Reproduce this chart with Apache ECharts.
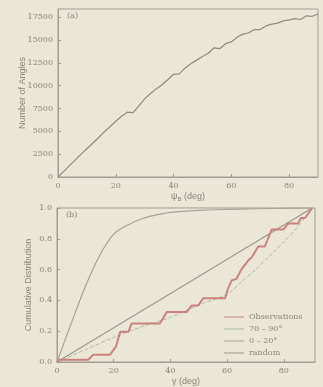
<!DOCTYPE html>
<html style="height: 100%">
   <head>
       <meta charset="utf-8">
   </head>
   <body style="height: 100%; margin: 0; background: #ece6d7">
       <div id="container" style="height: 100%"></div>
       <script type="text/javascript" src="https://cdn.jsdelivr.net/npm/echarts@6/dist/echarts.min.js"></script>
       <script type="text/javascript">
// (a) number of angles vs angle
var angleDeg = [0, 2, 4, 6, 8, 10, 12, 14, 16, 18, 20, 22, 24, 26, 28, 30, 32, 34, 36, 38, 40,
    42, 44, 46, 48, 50, 52, 54, 56, 58, 60, 62, 64, 66, 68, 70, 72, 74, 76, 78, 80, 82, 84, 86, 88, 90];
var angleCount = [0, 620, 1250, 1880, 2500, 3100, 3700, 4300, 4950, 5500, 6100, 6650, 7100, 7050, 7800, 8550,
    9150, 9650, 10100, 10650, 11250, 11300, 11950, 12400, 12800, 13200, 13550, 14150, 14050, 14600, 14800,
    15300, 15650, 15800, 16150, 16150, 16550, 16750, 16850, 17100, 17200, 17350, 17250, 17650, 17600, 17850];

// (b) cumulative distributions
var obsX = [0, 1, 11, 12.8, 18.7, 20, 20.8, 22.3, 25.2, 26.3, 36.3, 38.7, 45.8, 47.5, 49.8, 51.6, 59.3,
    60.2, 61.6, 63.3, 65, 67.5, 68.7, 71, 73.3, 75.7, 79.8, 81.6, 85.1, 86, 87.5, 90];
var obsY = [0, 0.015, 0.015, 0.047, 0.047, 0.08, 0.1, 0.197, 0.197, 0.25, 0.25, 0.325, 0.325, 0.367, 0.367,
    0.414, 0.414, 0.47, 0.53, 0.54, 0.6, 0.66, 0.68, 0.75, 0.75, 0.86, 0.86, 0.9, 0.9, 0.935, 0.935, 1.0];
var perpX = [0, 10, 20, 30, 40, 50, 60, 65, 70, 75, 80, 85, 90];
var perpY = [0, 0.08, 0.16, 0.23, 0.29, 0.37, 0.44, 0.52, 0.6, 0.69, 0.78, 0.88, 1.0];
var parX = [0, 5, 10, 15, 20, 25, 30, 35, 40, 50, 60, 70, 80, 90];
var parY = [0, 0.25, 0.49, 0.69, 0.83, 0.89, 0.93, 0.955, 0.972, 0.985, 0.991, 0.995, 0.998, 1.0];
var randX = [0, 90];
var randY = [0, 1.0];

var legendNames = ['Observations', '70 – 90°', '0 – 20°', 'random'];

function pairs(xs, ys) {
    return xs.map(function (x, i) { return [x, ys[i]]; });
}

var frame = '#a19d93';
var textCol = '#8a8579';
var tickFont = 'DejaVu Serif';

function axisBase() {
    return {
        nameMoveOverlap: false,
        axisLine: {show: true, lineStyle: {color: frame, width: 1}},
        axisTick: {show: true, inside: true, length: 3, lineStyle: {color: frame}},
        splitLine: {show: false},
        axisLabel: {color: textCol, fontFamily: tickFont, fontSize: 8, showMaxLabel: false, margin: 5},
        nameTextStyle: {color: textCol, fontFamily: 'Liberation Sans', fontSize: 9,
            rich: {sub: {fontSize: 6, verticalAlign: 'bottom', color: textCol, padding: [4, 0, 0, 0]}}}
    };
}

var dom = document.getElementById("container");
var myChart = echarts.init(dom);

var xa = axisBase(), xb = axisBase(), ya = axisBase(), yb = axisBase();
Object.assign(xa, {type: 'value', gridIndex: 0, min: 0, max: 90, interval: 20,
    name: 'ψ{sub|B} (deg)', nameLocation: 'middle', nameGap: 15});
Object.assign(xb, {type: 'value', gridIndex: 1, min: 0, max: 91, interval: 20,
    name: 'γ (deg)', nameLocation: 'middle', nameGap: 15});
Object.assign(ya, {type: 'value', gridIndex: 0, min: 0, max: 18400, interval: 2500,
    name: 'Number of Angles', nameLocation: 'middle', nameGap: 31});
Object.assign(yb, {type: 'value', gridIndex: 1, min: 0, max: 1, interval: 0.2,
    name: 'Cumulative Distribution', nameLocation: 'middle', nameGap: 24});
ya.axisLabel.formatter = function (v) { return String(v); };
yb.axisLabel.showMaxLabel = true;
yb.axisLabel.formatter = function (v) { return v.toFixed(1); };

var option = {
    backgroundColor: '#ece6d7',
    animation: false,
    grid: [
        {left: 58, right: 5, top: 9, bottom: 210, show: true, borderColor: frame, borderWidth: 1},
        {left: 57, right: 8, top: 208, bottom: 23, show: true, borderColor: frame, borderWidth: 1}
    ],
    xAxis: [xa, xb],
    yAxis: [ya, yb],
    legend: {
        orient: 'vertical',
        left: 219,
        top: 308,
        itemWidth: 20,
        itemHeight: 6,
        itemGap: 4,
        icon: 'path://M0,0H20V1H0Z',
        data: legendNames,
        textStyle: {color: textCol, fontFamily: tickFont, fontSize: 8}
    },
    graphic: [
        {type: 'text', left: 67, top: 12, style: {text: '(a)', fill: textCol, font: '8px "DejaVu Serif"'}},
        {type: 'text', left: 66, top: 211, style: {text: '(b)', fill: textCol, font: '8px "DejaVu Serif"'}}
    ],
    series: [
        {
            type: 'line', xAxisIndex: 0, yAxisIndex: 0, showSymbol: false,
            data: pairs(angleDeg, angleCount),
            lineStyle: {color: '#8f8b81', width: 1.2}
        },
        {
            name: 'random', type: 'line', xAxisIndex: 1, yAxisIndex: 1, showSymbol: false,
            data: pairs(randX, randY), itemStyle: {color: '#9b988f'},
            lineStyle: {color: '#9b988f', width: 1.2}
        },
        {
            name: '0 – 20°', type: 'line', xAxisIndex: 1, yAxisIndex: 1, showSymbol: false, smooth: 0.3,
            data: pairs(parX, parY), itemStyle: {color: '#a6a398'},
            lineStyle: {color: '#a6a398', width: 1.2}
        },
        {
            name: '70 – 90°', type: 'line', xAxisIndex: 1, yAxisIndex: 1, showSymbol: false, smooth: 0.3,
            data: pairs(perpX, perpY), itemStyle: {color: '#a9b8a0'},
            lineStyle: {color: '#a9b8a0', width: 1, type: [4, 2]}
        },
        {
            name: 'Observations', type: 'line', xAxisIndex: 1, yAxisIndex: 1, showSymbol: false,
            data: pairs(obsX, obsY), itemStyle: {color: '#c9837c'},
            lineStyle: {color: '#c9837c', width: 2}
        }
    ]
};
myChart.setOption(option);
       </script>
   </body>
</html>
